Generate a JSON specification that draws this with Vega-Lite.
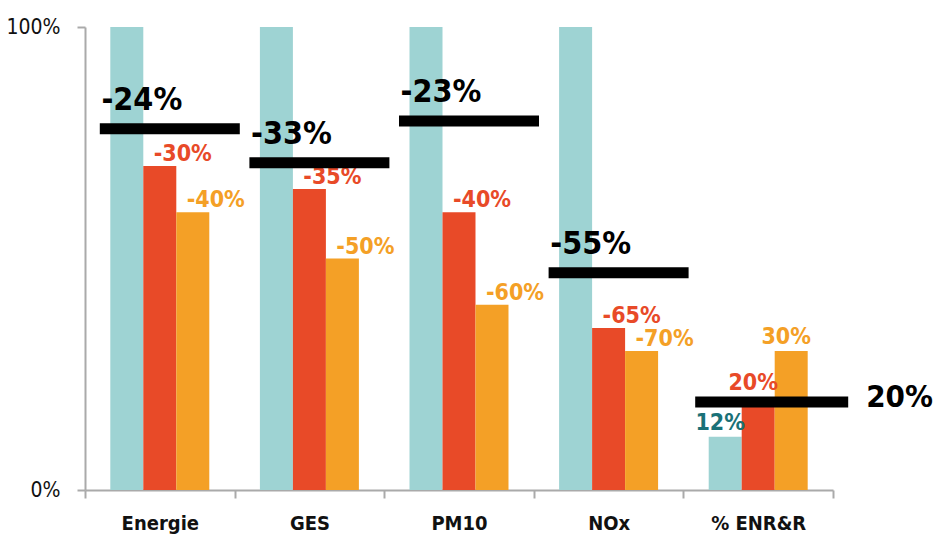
{
  "$schema": "https://vega.github.io/schema/vega-lite/v6.json",
  "autosize": "none",
  "width": 748,
  "height": 463,
  "padding": {"left": 85, "top": 27, "right": 106, "bottom": 45},
  "background": "white",
  "config": {
    "view": {"stroke": null},
    "font": "Liberation Sans Narrow, DejaVu Sans Condensed, Roboto, sans-serif"
  },
  "datasets": {
    "bars": [
      {"cat": "Energie", "series": "base", "value": 100, "label": ""},
      {"cat": "Energie", "series": "s1", "value": 70, "label": "-30%"},
      {"cat": "Energie", "series": "s2", "value": 60, "label": "-40%"},
      {"cat": "GES", "series": "base", "value": 100, "label": ""},
      {"cat": "GES", "series": "s1", "value": 65, "label": "-35%"},
      {"cat": "GES", "series": "s2", "value": 50, "label": "-50%"},
      {"cat": "PM10", "series": "base", "value": 100, "label": ""},
      {"cat": "PM10", "series": "s1", "value": 60, "label": "-40%"},
      {"cat": "PM10", "series": "s2", "value": 40, "label": "-60%"},
      {"cat": "NOx", "series": "base", "value": 100, "label": ""},
      {"cat": "NOx", "series": "s1", "value": 35, "label": "-65%"},
      {"cat": "NOx", "series": "s2", "value": 30, "label": "-70%"},
      {"cat": "% ENR&R", "series": "base", "value": 11.5, "label": "12%"},
      {"cat": "% ENR&R", "series": "s1", "value": 20, "label": "20%"},
      {"cat": "% ENR&R", "series": "s2", "value": 30, "label": "30%"}
    ],
    "targets": [
      {"cat": "Energie", "value": 78, "label": "-24%"},
      {"cat": "GES", "value": 70.7, "label": "-33%"},
      {"cat": "PM10", "value": 79.7, "label": "-23%"},
      {"cat": "NOx", "value": 46.9, "label": "-55%"},
      {"cat": "% ENR&R", "value": 19, "label": "20%"}
    ]
  },
  "encoding": {
    "x": {
      "field": "cat",
      "type": "nominal",
      "sort": ["Energie", "GES", "PM10", "NOx", "% ENR&R"],
      "scale": {"paddingInner": 0, "paddingOuter": 0},
      "axis": {
        "title": null,
        "labelAngle": 0,
        "tickBand": "extent",
        "domainColor": "#aaaaaa",
        "domainWidth": 2,
        "tickColor": "#aaaaaa",
        "tickWidth": 2,
        "tickSize": 8,
        "labelPadding": 15,
        "labelFontSize": 20,
        "labelFontWeight": "bold",
        "labelColor": "#111111",
        "labelBaseline": "top"
      }
    },
    "y": {
      "field": "value",
      "type": "quantitative",
      "scale": {"domain": [0, 100], "nice": false, "zero": true},
      "axis": {
        "title": null,
        "values": [0, 100],
        "labelExpr": "datum.value + '%'",
        "grid": false,
        "domainColor": "#aaaaaa",
        "domainWidth": 2,
        "tickColor": "#aaaaaa",
        "tickWidth": 2,
        "tickSize": 8,
        "labelPadding": 17,
        "labelFontSize": 21,
        "labelColor": "#111111"
      }
    }
  },
  "layer": [
    {
      "data": {"name": "bars"},
      "mark": {"type": "bar"},
      "encoding": {
        "xOffset": {
          "field": "series",
          "type": "nominal",
          "sort": ["base", "s1", "s2"],
          "scale": {"paddingInner": 0, "paddingOuter": 0.767}
        },
        "color": {
          "field": "series",
          "type": "nominal",
          "scale": {"domain": ["base", "s1", "s2"], "range": ["#9ed3d3", "#e84a28", "#f4a026"]},
          "legend": null
        }
      }
    },
    {
      "data": {"name": "bars"},
      "transform": [{"filter": "datum.cat != '% ENR&R'"}],
      "mark": {"type": "text", "baseline": "alphabetic", "align": "center", "dx": 23, "dy": -5, "fontSize": 23, "fontWeight": "bold"},
      "encoding": {
        "xOffset": {
          "field": "series",
          "type": "nominal",
          "sort": ["base", "s1", "s2"],
          "scale": {"paddingInner": 0, "paddingOuter": 0.767}
        },
        "text": {"field": "label"},
        "fill": {
          "field": "series",
          "type": "nominal",
          "scale": {"domain": ["base", "s1", "s2"], "range": ["#1a7177", "#e84a28", "#f4a026"]},
          "legend": null
        }
      }
    },
    {
      "data": {"name": "bars"},
      "transform": [{"filter": "datum.cat == '% ENR&R'"}],
      "mark": {"type": "text", "baseline": "alphabetic", "align": "center", "dx": -5, "dy": -7, "fontSize": 23, "fontWeight": "bold"},
      "encoding": {
        "xOffset": {
          "field": "series",
          "type": "nominal",
          "sort": ["base", "s1", "s2"],
          "scale": {"paddingInner": 0, "paddingOuter": 0.767}
        },
        "text": {"field": "label"},
        "fill": {
          "field": "series",
          "type": "nominal",
          "scale": {"domain": ["base", "s1", "s2"], "range": ["#1a7177", "#e84a28", "#f4a026"]},
          "legend": null
        }
      }
    },
    {
      "data": {"name": "targets"},
      "transform": [{"filter": "datum.cat != '% ENR&R'"}],
      "mark": {"type": "tick", "orient": "horizontal", "size": 140, "thickness": 11, "color": "#000000", "opacity": 1, "xOffset": 10},
      "encoding": {}
    },
    {
      "data": {"name": "targets"},
      "transform": [{"filter": "datum.cat == '% ENR&R'"}],
      "mark": {"type": "tick", "orient": "horizontal", "size": 153, "thickness": 11, "color": "#000000", "opacity": 1, "xOffset": 13.5},
      "encoding": {}
    },
    {
      "data": {"name": "targets"},
      "transform": [{"filter": "datum.cat != '% ENR&R'"}],
      "mark": {"type": "text", "baseline": "alphabetic", "align": "center", "dx": -18, "dy": -19, "fontSize": 32, "fontWeight": "bold", "color": "#000000"},
      "encoding": {"text": {"field": "label"}}
    },
    {
      "data": {"name": "targets"},
      "transform": [{"filter": "datum.cat == '% ENR&R'"}],
      "mark": {"type": "text", "baseline": "alphabetic", "align": "left", "dx": 108, "dy": 5, "fontSize": 31, "fontWeight": "bold", "color": "#000000"},
      "encoding": {"text": {"field": "label"}}
    }
  ],
  "resolve": {"scale": {"color": "independent", "fill": "independent"}}
}
